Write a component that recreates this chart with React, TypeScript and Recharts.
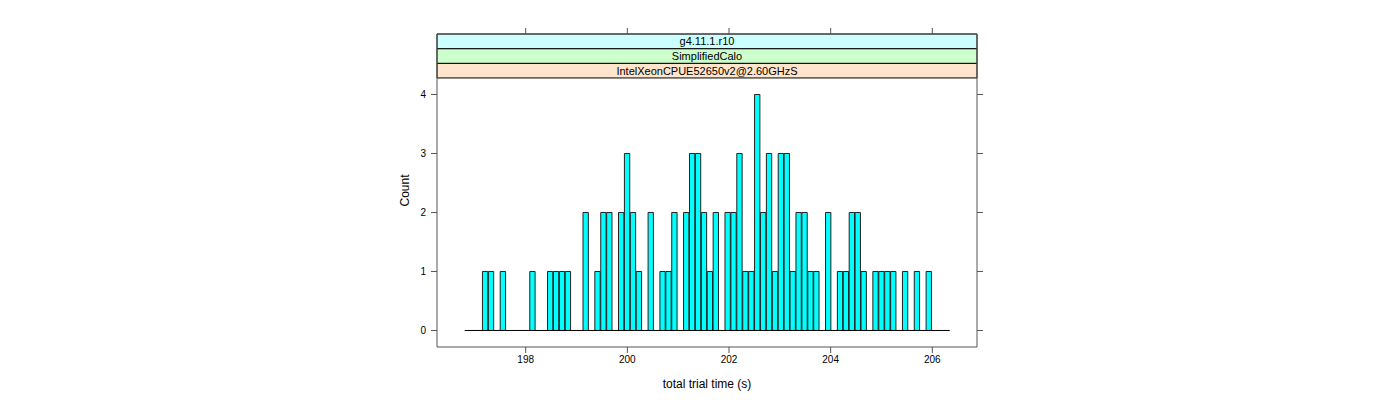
import React from 'react';
import { ComposedChart, Bar, XAxis, YAxis, ReferenceArea, ReferenceLine } from 'recharts';

// histogram bins (equal width)
const binStart = 196.8;
const binWidth = 0.11638;
const counts = [
  0, 0, 0, 1, 1, 0, 1, 0, 0, 0,
  0, 1, 0, 0, 1, 1, 1, 1, 0, 0,
  2, 0, 1, 2, 2, 0, 2, 3, 2, 1,
  0, 2, 0, 1, 1, 2, 0, 2, 3, 3,
  2, 1, 2, 0, 2, 2, 3, 1, 1, 4,
  2, 3, 1, 3, 3, 1, 2, 2, 1, 1,
  0, 2, 0, 1, 1, 2, 2, 1, 0, 1,
  1, 1, 1, 0, 1, 0, 1, 0, 1, 0,
  0, 0,
];

const xTicks = [198, 200, 202, 204, 206];
const yTicks = [0, 1, 2, 3, 4];
const xDomain: [number, number] = [196.255, 206.879];
const yDomain: [number, number] = [-0.28, 5.025];
const panelTop = 4.28;

// strip labels (bottom to top) and colours
const stripLabels = ['IntelXeonCPUE52650v2@2.60GHzS', 'SimplifiedCalo', 'g4.11.1.r10'];
const stripColors = ['#ffe5cc', '#ccffcc', '#ccffff'];

const data = counts.map((c, i) => ({ x: binStart + (i + 0.5) * binWidth, count: c }));
const binEnd = binStart + counts.length * binWidth;

const W = 1400;
const H = 400;
const topAxisHeight = 20;
const margin = { top: 34 - topAxisHeight, right: 413, bottom: 0, left: 373 };
const yAxisWidth = 64;
const rightAxisWidth = 10;
const xAxisHeight = 53;
const plotWidth = W - margin.left - margin.right - yAxisWidth - rightAxisWidth;
const barPx = (binWidth * plotWidth) / (xDomain[1] - xDomain[0]);
const stripH = (yDomain[1] - panelTop) / stripLabels.length;

const axisColor = '#555';
const noLabel = () => '';

export default function App() {
  return (
    <div
      style={{
        position: 'absolute',
        left: 0,
        top: 0,
        width: W,
        height: H,
        background: '#fff',
        fontFamily: '"Liberation Sans", Arial, Helvetica, sans-serif',
      }}
    >
      <ComposedChart width={W} height={H} data={data} margin={margin}>
        <XAxis
          xAxisId="bottom"
          dataKey="x"
          type="number"
          domain={xDomain}
          allowDataOverflow
          ticks={xTicks}
          height={xAxisHeight}
          stroke={axisColor}
          tickSize={6}
          tickMargin={3}
          tick={{ fill: '#000', fontSize: 10 }}
          label={{ value: 'total trial time (s)', position: 'center', dy: 10, fill: '#000', fontSize: 12 }}
        />
        <XAxis
          xAxisId="top"
          orientation="top"
          dataKey="x"
          type="number"
          domain={xDomain}
          allowDataOverflow
          ticks={xTicks}
          height={topAxisHeight}
          stroke={axisColor}
          tickSize={6}
          tickFormatter={noLabel}
          tick={{ fill: '#000', fontSize: 10 }}
        />
        <YAxis
          yAxisId="left"
          type="number"
          domain={yDomain}
          allowDataOverflow
          ticks={yTicks}
          width={yAxisWidth}
          stroke={axisColor}
          tickSize={6}
          tickMargin={5}
          tick={{ fill: '#000', fontSize: 10 }}
          label={{ value: 'Count', angle: -90, position: 'center', fill: '#000', fontSize: 12 }}
        />
        <YAxis
          yAxisId="right"
          orientation="right"
          type="number"
          domain={yDomain}
          allowDataOverflow
          ticks={yTicks}
          width={rightAxisWidth}
          stroke={axisColor}
          tickSize={6}
          tickFormatter={noLabel}
          tick={{ fill: '#000', fontSize: 10 }}
        />
        {stripLabels.map((lab, i) => (
          <ReferenceArea
            key={lab}
            xAxisId="bottom"
            yAxisId="left"
            x1={xDomain[0]}
            x2={xDomain[1]}
            y1={panelTop + i * stripH}
            y2={panelTop + (i + 1) * stripH}
            fill={stripColors[i]}
            fillOpacity={1}
            stroke="#000"
            strokeWidth={1}
            label={{ value: lab, position: 'center', fill: '#000', fontSize: 11 }}
          />
        ))}
        <ReferenceLine
          xAxisId="bottom"
          yAxisId="left"
          segment={[
            { x: binStart, y: 0 },
            { x: binEnd, y: 0 },
          ]}
          stroke="#000"
        />
        <Bar
          xAxisId="bottom"
          yAxisId="left"
          dataKey="count"
          fill="#00ffff"
          stroke="#222"
          strokeWidth={1}
          barSize={barPx}
          isAnimationActive={false}
        />
      </ComposedChart>
    </div>
  );
}
